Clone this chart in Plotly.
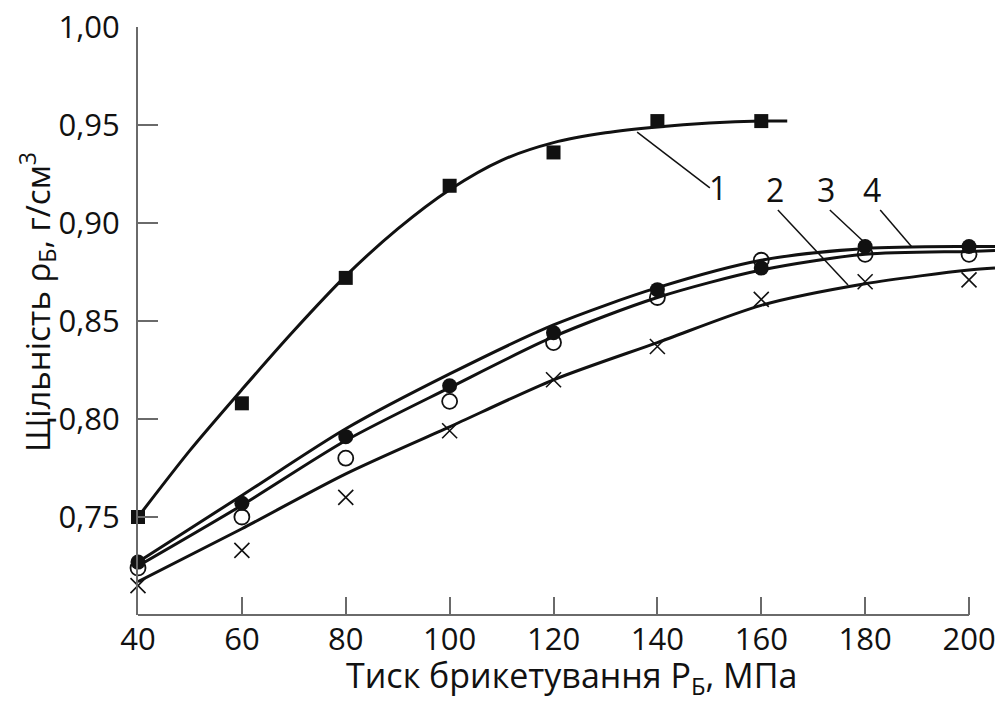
import plotly.graph_objects as go

# ---- measured points ----
pressure = [40, 60, 80, 100, 120, 140, 160, 180, 200]

s1_x = [40, 60, 80, 100, 120, 140, 160]
s1_y = [0.750, 0.808, 0.872, 0.919, 0.936, 0.952, 0.952]

s2_y = [0.715, 0.733, 0.760, 0.794, 0.820, 0.837, 0.861, 0.870, 0.871]
s3_y = [0.724, 0.750, 0.780, 0.809, 0.839, 0.862, 0.881, 0.884, 0.884]
s4_y = [0.727, 0.757, 0.791, 0.817, 0.844, 0.866, 0.877, 0.888, 0.888]

# ---- fitted curves ----
c1_x = [40, 50, 60, 70, 80, 90, 100, 110, 120, 130, 140, 150, 160, 165]
c1_y = [0.750, 0.784, 0.815, 0.845, 0.873, 0.897, 0.917, 0.932, 0.941,
        0.946, 0.949, 0.951, 0.952, 0.952]

c_x = [40, 60, 80, 100, 120, 140, 160, 180, 200, 205]
c2_y = [0.717, 0.744, 0.772, 0.796, 0.820, 0.839, 0.858, 0.869, 0.876, 0.877]
c3_y = [0.725, 0.756, 0.789, 0.816, 0.842, 0.862, 0.876, 0.884, 0.8855, 0.886]
c4_y = [0.727, 0.761, 0.795, 0.823, 0.848, 0.867, 0.881, 0.887, 0.888, 0.888]

x_ticks = [40, 60, 80, 100, 120, 140, 160, 180, 200]
y_ticks = [0.75, 0.80, 0.85, 0.90, 0.95, 1.00]
y_ticktext = ["0,75", "0,80", "0,85", "0,90", "0,95", "1,00"]

curve_labels = ["1", "2", "3", "4"]
label_x = [151.7, 162.6, 172.5, 181.3]
label_y = [0.918, 0.917, 0.917, 0.917]
leader_x0 = [136.1, 163.2, 173.2, 182.9]
leader_y0 = [0.9464, 0.9066, 0.9066, 0.9066]
leader_x1 = [150.1, 176.7, 180.4, 189.0]
leader_y1 = [0.9179, 0.8684, 0.8888, 0.8878]

FONT = "Open Sans"
BLACK = "#111111"
AXIS = "#6a6a6a"

fig = go.Figure()

for cx, cy in [(c1_x, c1_y), (c_x, c2_y), (c_x, c3_y), (c_x, c4_y)]:
    fig.add_trace(go.Scatter(x=cx, y=cy, mode="lines",
                             line=dict(color=BLACK, width=3, shape="spline", smoothing=0.8),
                             hoverinfo="skip", showlegend=False, cliponaxis=False))

fig.add_trace(go.Scatter(x=s1_x, y=s1_y, mode="markers",
                         marker=dict(symbol="square", size=14, color=BLACK), showlegend=False, cliponaxis=False))
fig.add_trace(go.Scatter(x=pressure, y=s2_y, mode="markers",
                         marker=dict(symbol="x-thin-open", size=15, color=BLACK, line=dict(width=1.6, color=BLACK)),
                         showlegend=False, cliponaxis=False))
fig.add_trace(go.Scatter(x=pressure, y=s3_y, mode="markers",
                         marker=dict(symbol="circle-open", size=15, color=BLACK, line=dict(width=1.8, color=BLACK)),
                         showlegend=False, cliponaxis=False))
fig.add_trace(go.Scatter(x=pressure, y=s4_y, mode="markers",
                         marker=dict(symbol="circle", size=15, color=BLACK), showlegend=False, cliponaxis=False))

for i, lab in enumerate(curve_labels):
    fig.add_annotation(x=label_x[i], y=label_y[i], text=lab, showarrow=False,
                       font=dict(family=FONT, size=32, color=BLACK), xanchor="center", yanchor="middle")
    fig.add_shape(type="line", x0=leader_x0[i], y0=leader_y0[i], x1=leader_x1[i], y1=leader_y1[i],
                  line=dict(color=BLACK, width=1.5))

# x axis line up to 200
fig.add_shape(type="line", xref="x", yref="paper", x0=40, x1=200, y0=0, y1=0,
              line=dict(color=AXIS, width=2))

fig.add_annotation(xref="paper", yref="paper", x=0.506, y=-0.106,
                   text="Тиск брикетування Р<sub>Б</sub>, МПа", showarrow=False,
                   font=dict(family=FONT, size=34, color=BLACK), xanchor="center", yanchor="middle")
fig.add_annotation(xref="paper", yref="paper", x=-0.118, y=0.532, textangle=-90,
                   text="Щільність ρ<sub>Б</sub>, г/см<sup>3</sup>", showarrow=False,
                   font=dict(family=FONT, size=33, color=BLACK), xanchor="center", yanchor="middle")

fig.update_layout(
    width=1002, height=704,
    margin=dict(l=138, r=7, t=27, b=89, autoexpand=False),
    plot_bgcolor="white", paper_bgcolor="white",
    showlegend=False,
    xaxis=dict(range=[40, 205], tickvals=x_ticks, ticks="inside", ticklen=18, tickwidth=2, tickcolor=AXIS,
               showline=False, showgrid=False, zeroline=False, automargin=False,
               tickfont=dict(family=FONT, size=31, color=BLACK), ticklabelstandoff=3),
    yaxis=dict(range=[0.70, 1.00], tickvals=y_ticks, ticktext=y_ticktext, ticks="inside", ticklen=20,
               tickwidth=2, tickcolor=AXIS, showline=True, linecolor=AXIS, linewidth=2,
               showgrid=False, zeroline=False, automargin=False,
               tickfont=dict(family=FONT, size=31, color=BLACK), ticklabelstandoff=10),
)

fig.write_html("out.html", config={"displayModeBar": False},
               post_script="document.body.style.margin='0';document.body.style.overflow='hidden';")
